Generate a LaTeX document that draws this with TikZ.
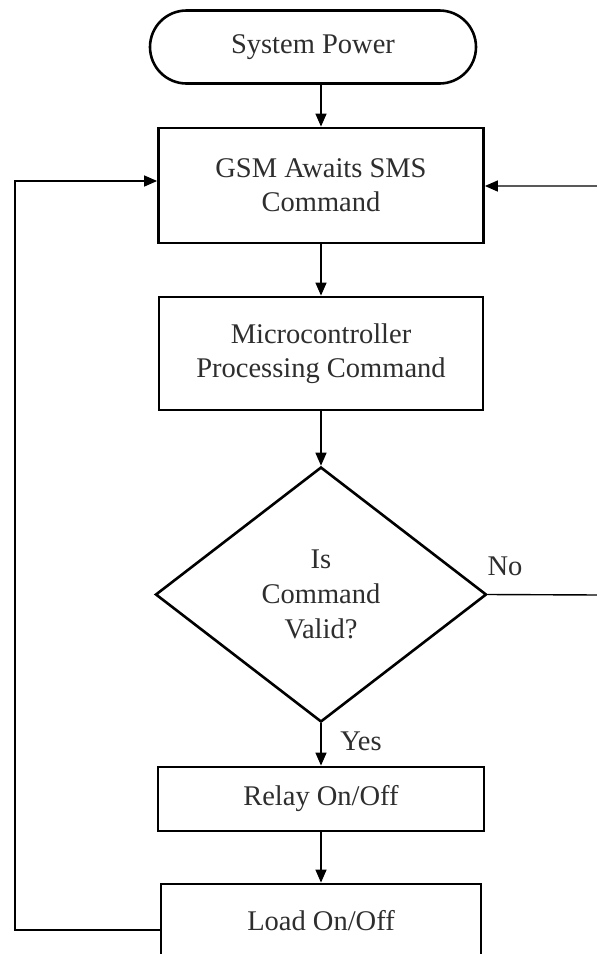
\documentclass[tikz,border=0pt]{standalone}
\usepackage{fontspec}
\setmainfont{Liberation Serif}
\usetikzlibrary{arrows.meta,shapes.geometric,shapes.misc}
\definecolor{txt}{HTML}{2E2E2E}
\tikzset{
  box/.style={draw=black, line width=2.8pt, rectangle, text=txt, align=center,
    font=\fontsize{28.5}{34}\selectfont, inner sep=0pt},
  term/.style={draw=black, line width=2.6pt, rounded rectangle, text=txt, align=center,
    font=\fontsize{28.5}{34}\selectfont, inner sep=0pt},
  decision/.style={draw=black, line width=2.6pt, diamond, text=txt, align=center,
    font=\fontsize{28.5}{35}\selectfont, inner sep=0pt},
  flow/.style={draw=black, line width=1.4pt, -{Triangle[length=13pt,width=11pt]}},
  lbl/.style={text=txt, font=\fontsize{28.5}{30}\selectfont, inner sep=0pt}
}
\begin{document}
\begin{tikzpicture}[x=1pt,y=-1pt]
  \useasboundingbox (0,0) rectangle (597,954);
  \fill[white] (0,0) rectangle (597,954);

  % flow steps
  \node[term, minimum width=326pt, minimum height=73pt] (power) at (313,47) {System Power};
  \node[box, minimum width=325pt, minimum height=115pt] (gsm) at (321,185.5) {GSM Awaits SMS\\Command};
  \node[box, minimum width=324pt, minimum height=113pt] (mcu) at (321,353.5) {Microcontroller\\Processing Command};
  \node[decision, minimum width=331pt, minimum height=255pt] (valid) at (321,594.5) {Is\\Command\\Valid?};
  \node[box, minimum width=326pt, minimum height=64pt] (relay) at (321,799) {Relay On/Off};
  \node[box, minimum width=320pt, minimum height=74pt] (load) at (321,921) {Load On/Off};

  % loop-back corners
  \coordinate (lbot) at (15,930);
  \coordinate (ltop) at (15,181);
  \coordinate (rbot) at (600,595);
  \coordinate (rtop) at (600,186);

  % main sequence
  \draw[flow] (power.south -| gsm.north) -- (gsm.north);
  \draw[flow] (gsm) -- (mcu);
  \draw[flow] (mcu) -- (valid.north);
  \draw[flow] (valid.south) -- (relay);
  \draw[flow] (relay) -- (load);

  % invalid command returns to waiting
  \draw[flow] (valid.east) -- (rbot) -- (rtop) -- (rtop -| gsm.east);
  % after switching the load, wait for the next SMS
  \draw[flow] (lbot -| load.west) -- (lbot) -- (ltop) -- (ltop -| gsm.west);

  % branch labels
  \node[lbl] (no) at (505,566) {No};
  \node[lbl] (yes) at (361,741) {Yes};
\end{tikzpicture}
\end{document}
